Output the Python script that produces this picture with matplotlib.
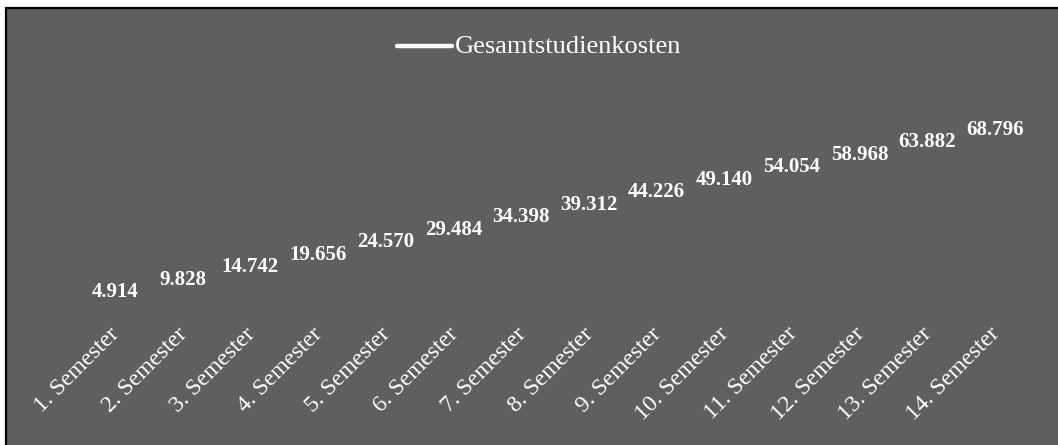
import matplotlib
matplotlib.use("Agg")
import matplotlib.pyplot as plt
import matplotlib.transforms as mtransforms
from matplotlib.lines import Line2D
from matplotlib.patches import Rectangle

categories = ["1. Semester", "2. Semester", "3. Semester", "4. Semester", "5. Semester",
              "6. Semester", "7. Semester", "8. Semester", "9. Semester", "10. Semester",
              "11. Semester", "12. Semester", "13. Semester", "14. Semester"]
gesamtstudienkosten = [4914, 9828, 14742, 19656, 24570, 29484, 34398, 39312,
                       44226, 49140, 54054, 58968, 63882, 68796]
series_name = "Gesamtstudienkosten"

BG = "#5f5f5f"
W, H = 1058, 445
plt.rcParams['font.family'] = ['Liberation Serif', 'DejaVu Serif']

fig = plt.figure(figsize=(W / 100, H / 100), dpi=100)
fig.patch.set_facecolor("white")
fig.patches.append(Rectangle((6 / W, -0.1), 1.2, 1.1 - 8 / H, transform=fig.transFigure,
                             facecolor=BG, edgecolor="black", linewidth=1.6, zorder=-5))

ax = fig.add_axes([81 / W, (H - 315) / H, 948 / W, 203 / H])
ax.set_zorder(2)
ax.set_facecolor("none")
x = list(range(len(categories)))
ax.plot(x, gesamtstudienkosten, color="none")
ax.set_xlim(-0.5, len(categories) - 0.5)
ax.set_ylim(0, 80000)

for xi, v in zip(x, gesamtstudienkosten):
    ax.annotate(f"{v:,}".replace(",", "."), (xi, v), xytext=(0, 10.5),
                textcoords="offset pixels", ha="center", va="center",
                fontsize=15, fontweight="bold", color="white")

ax.set_xticks(x)
ax.set_xticklabels(categories, rotation=45, ha="right", rotation_mode="anchor",
                   fontsize=17, color="white")
ax.tick_params(axis="x", length=0, pad=6)
shift = mtransforms.ScaledTranslation(-6 / 100, 0, fig.dpi_scale_trans)
for lab in ax.get_xticklabels():
    lab.set_transform(lab.get_transform() + shift)
ax.set_yticks([])
for s in ax.spines.values():
    s.set_visible(False)

handle = Line2D([], [], color="white", lw=3.2, solid_capstyle="round")
leg = fig.legend([handle], [series_name], loc="center", bbox_to_anchor=(539 / W, 1 - 47 / H),
                 frameon=False, fontsize=19, labelcolor="white", handlelength=2.1,
                 handleheight=0.17, handletextpad=0.1, borderpad=0)
leg.set_zorder(3)

fig.savefig("out.png", dpi=100, facecolor="white")
